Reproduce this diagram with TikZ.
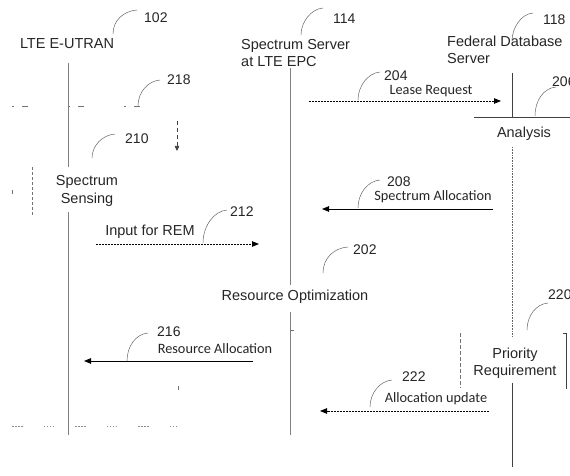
\documentclass[tikz,border=0pt]{standalone}
\usepackage{fontspec}
\setmainfont{Liberation Sans}
\newfontfamily\calib{Carlito}
\usetikzlibrary{arrows.meta}
\begin{document}
\begin{tikzpicture}[x=1pt,y=-1pt,
  txt/.style={inner sep=0pt, text=black!85, font=\fontsize{14.5}{17.5}\selectfont},
  msgtxt/.style={inner sep=0pt, text=black!85, font=\calib\fontsize{14.3}{17}\selectfont},
  num/.style={inner sep=0pt, text=black!85, font=\fontsize{14}{16}\selectfont},
  life/.style={draw=black!50, line width=0.9pt},
  lifethin/.style={draw=black!75, line width=0.7pt},
  lead/.style={draw=black!60, line width=0.5pt},
  msg/.style={draw=black, line width=0.8pt, -{Triangle[length=7pt,width=5.5pt]}},
  dmsg/.style={msg, dash pattern=on 2pt off 1pt},
  faint/.style={draw=black!55, line width=0.7pt}]
\useasboundingbox (0,0) rectangle (570,476);
\fill[white] (0,0) rectangle (570,476);

% headers
\node[txt] (utran) at (67,44) {LTE E-UTRAN};
\node[txt, align=left, anchor=west] (server) at (241,53) {Spectrum Server\\at LTE EPC};
\node[txt, align=left, anchor=west] (federal) at (447,50) {Federal Database\\Server};

% reference numbers
\node[num, anchor=west] (n102) at (144,18) {102};
\node[num, anchor=west] (n114) at (333,19) {114};
\node[num, anchor=west] (n118) at (543,20) {118};
\node[num, anchor=west] (n218) at (167,80) {218};
\node[num, anchor=west] (n210) at (125,139) {210};
\node[num, anchor=west] (n204) at (384,76) {204};
\node[num, anchor=west] (n206) at (552,82) {206};
\node[num, anchor=west] (n208) at (387,182) {208};
\node[num, anchor=west] (n212) at (230,212) {212};
\node[num, anchor=west] (n202) at (353,250) {202};
\node[num, anchor=west] (n220) at (548,295) {220};
\node[num, anchor=west] (n216) at (157,332) {216};
\node[num, anchor=west] (n222) at (402,377) {222};

% leader curves
\draw[lead] (113,34) .. controls (113,20) and (124,11) .. (137,10);
\draw[lead] (301,35) .. controls (301,22) and (311,9) .. (323,8);
\draw[lead] (512,41) .. controls (512,28) and (521,14) .. (533,13);
\draw[lead] (138,106) .. controls (138,92) and (148,81) .. (160,80);
\draw[lead] (92,158) .. controls (92,146) and (102,135) .. (115,134);
\draw[lead] (358,100) .. controls (358,86) and (368,73) .. (380,72);
\draw[lead] (535,116) .. controls (535,100) and (544,88) .. (556,87);
\draw[lead] (358,208) .. controls (358,193) and (368,181) .. (380,180);
\draw[lead] (203,243) .. controls (203,226) and (214,211) .. (227,210);
\draw[lead] (323,273) .. controls (323,258) and (334,248) .. (348,247);
\draw[lead] (527,330) .. controls (527,316) and (536,304) .. (548,303);
\draw[lead] (127,361) .. controls (127,346) and (136,334) .. (148,333);
\draw[lead] (370,407) .. controls (370,393) and (380,381) .. (392,380);

% lifeline end points
\coordinate (a1) at (68,63);  \coordinate (a2) at (68,167);
\coordinate (a3) at (68,212); \coordinate (a4) at (68,435);
\coordinate (b1) at (290,68); \coordinate (b2) at (290,285);
\coordinate (b3) at (290,312); \coordinate (b4) at (290,435);
\coordinate (c1) at (512,73); \coordinate (c2) at (512,117);
\coordinate (c3) at (512,147); \coordinate (c4) at (512,337);
\coordinate (c5) at (512,383); \coordinate (c6) at (512,467);

\draw[life] (a1) -- (a2);
\draw[life] (a3) -- (a4);
\draw[life] (b1) -- (b2);
\draw[life] (b3) -- (b4);
\draw[lifethin] (c1) -- (c2);
\draw[lifethin, black!60, line width=0.6pt, dash pattern=on 1pt off 0.6pt] (c3) -- (c4);
\draw[lifethin] (c5) -- (c6);
\draw[faint] (290,330) -- (294,330);

% activity labels
\node[txt, align=center] (sensing) at (87,191) {Spectrum\\Sensing};
\node[txt] (analysis) at (524,134) {Analysis};
\node[txt] (resopt) at (295,297) {Resource Optimization};
\node[txt, align=center] (prio) at (515,363) {Priority\\Requirement};

% analysis bar
\coordinate (an1) at (474,117); \coordinate (an2) at (570,117);
\draw[lifethin] (an1) -- (an2);

% dashed frame fragments (218, 210, 220)
\coordinate (f1) at (12,106); \coordinate (f2) at (178,106);
\draw[faint, dash pattern=on 2pt off 8pt on 6pt off 40pt] (f1) -- (f2);
\coordinate (d1) at (177,121); \coordinate (d2) at (177,151);
\draw[faint, black!75, dash pattern=on 4pt off 3pt, -{Triangle[length=5pt,width=4.5pt]}] (d1) -- (d2);
\coordinate (s1) at (32,167); \coordinate (s2) at (32,215);
\draw[faint, dash pattern=on 3pt off 2pt] (s1) -- (s2);
\draw[faint] (12,190) -- (12,194);
\coordinate (g1) at (12,426); \coordinate (g2) at (178,426);
\draw[faint, black!45, line width=0.6pt, dash pattern=on 1.5pt off 1.5pt on 1.5pt off 1.5pt on 1.5pt off 1.5pt on 1.5pt off 21pt] (g1) -- (g2);
\draw[faint] (178,386) -- (178,390);
\coordinate (p1) at (460,333); \coordinate (p2) at (460,388);
\draw[faint, dash pattern=on 4pt off 2pt] (p1) -- (p2);
\coordinate (q0) at (563,333); \coordinate (q1) at (566,333); \coordinate (q2) at (566,389);
\draw[lifethin] (q0) -- (q1) -- (q2);

% messages
\coordinate (lr1) at (309,101); \coordinate (lr2) at (501,101);
\draw[dmsg] (lr1) -- (lr2);
\node[msgtxt] (lrt) at (431,91) {Lease Request};

\coordinate (sa1) at (493,209); \coordinate (sa2) at (322,209);
\draw[msg] (sa1) -- (sa2);
\node[msgtxt] (sat) at (433,197) {Spectrum Allocation};

\coordinate (ir1) at (96,244); \coordinate (ir2) at (259,244);
\draw[dmsg] (ir1) -- (ir2);
\node[txt] (irt) at (150,232) {Input for REM};

\coordinate (ra1) at (253,361); \coordinate (ra2) at (84,361);
\draw[msg] (ra1) -- (ra2);
\node[msgtxt] (rat) at (215,349) {Resource Allocation};

\coordinate (au1) at (489,411); \coordinate (au2) at (320,411);
\draw[dmsg] (au1) -- (au2);
\node[msgtxt] (aut) at (436,399) {Allocation update};
\end{tikzpicture}
\end{document}
